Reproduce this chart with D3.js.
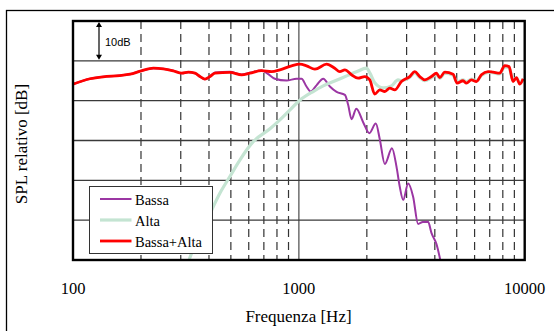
<!DOCTYPE html>
<html>
<head>
<meta charset="utf-8">
<script src="https://cdn.jsdelivr.net/npm/d3@7"></script>
<style>
  body { margin: 0; background: #fff; }
  svg { display: block; }
  text { font-family: "Liberation Serif", "Times New Roman", serif; fill: #000; }
</style>
</head>
<body>
<div id="chart"></div>
<script>
// frequency response data (Hz, dB relative)
const redFreq = [100, 119, 136, 161, 179, 201, 227, 251, 278, 303, 324, 347, 365, 384, 404, 425, 495, 558, 607, 684, 757, 824, 929, 1010, 1081, 1178, 1327, 1442, 1518, 1599, 1711, 1829, 1959, 2061, 2168, 2281, 2403, 2527, 2660, 2846, 3097, 3260, 3431, 3612, 3864, 4067, 4207, 4428, 4819, 5015, 5332, 5521, 5808, 6112, 6432, 6883, 7244, 7751, 8158, 8526, 8880, 9190, 9511, 9840];
const redDb = [-5.85, -4.5, -4.0, -3.7, -3.35, -2.5, -1.85, -2.0, -2.5, -3.1, -2.85, -3.1, -3.95, -4.6, -3.95, -3.1, -2.9, -3.5, -3.1, -2.45, -2.7, -2.25, -1.25, -0.85, -1.25, -2.1, -0.85, -1.85, -2.7, -2.25, -3.5, -4.35, -3.95, -4.8, -8.35, -7.3, -7.7, -6.85, -7.3, -5.2, -3.95, -2.7, -3.95, -4.8, -3.95, -3.1, -4.2, -2.85, -3.35, -5.6, -5.0, -5.6, -4.8, -5.2, -3.5, -2.7, -2.85, -3.1, -1.2, -1.45, -5.2, -4.2, -5.85, -4.5];

const bassaFreq = [100, 119, 136, 161, 179, 201, 227, 251, 278, 303, 324, 347, 365, 384, 404, 425, 495, 558, 607, 684, 729, 783, 883, 977, 1028, 1081, 1127, 1197, 1282, 1372, 1469, 1599, 1653, 1711, 1797, 1926, 2051, 2192, 2281, 2403, 2584, 2706, 2798, 2897, 3048, 3206, 3373, 3538, 3735, 3864, 4067, 4248];
const bassaDb = [-5.85, -4.5, -4.0, -3.7, -3.35, -2.5, -1.85, -2.0, -2.5, -3.1, -2.85, -3.1, -3.95, -4.6, -3.95, -2.9, -2.75, -3.4, -3.0, -2.45, -3.25, -4.5, -4.95, -4.5, -4.5, -6.45, -7.7, -6.15, -4.5, -6.45, -7.8, -8.55, -11.05, -14.65, -12.0, -15.4, -18.15, -15.75, -19.6, -25.9, -21.95, -26.55, -31.6, -34.9, -30.8, -34.1, -40.95, -40.45, -40.4, -43.2, -46.0, -50.5];

const altaFreq = [324, 347, 371, 418, 447, 495, 548, 628, 745, 824, 897, 1010, 1157, 1282, 1458, 1648, 1799, 1995, 2061, 2168, 2361, 2571, 2749, 2846, 3097, 3260, 3431, 3612, 3864, 4067, 4207, 4428, 4819, 5015, 5332, 5521, 5808, 6112, 6432, 6883, 7244, 7751, 8158, 8526, 8880, 9190, 9511, 9840];
const altaDb = [-50.5, -46.2, -43.3, -36.6, -33.25, -29.05, -24.9, -20.3, -17.05, -14.8, -12.75, -9.9, -7.7, -6.3, -4.95, -3.65, -2.75, -1.85, -3.0, -5.5, -6.8, -6.3, -4.8, -5.0, -4.2, -3.0, -4.2, -5.0, -4.2, -3.4, -4.4, -3.1, -3.6, -5.3, -4.8, -5.3, -4.6, -5.0, -3.7, -2.9, -3.0, -3.3, -1.5, -1.7, -5.0, -4.3, -5.6, -4.6];

const xTickValues = [100, 1000, 10000];
const xTickLabels = ["100", "1000", "10000"];
const minorFreqs = [200, 300, 400, 500, 600, 700, 800, 900, 2000, 3000, 4000, 5000, 6000, 7000, 8000, 9000];
const dbGrid = [-40, -30, -20, -10, 0];

const seriesNames = ["Bassa", "Alta", "Bassa+Alta"];
const seriesColors = ["#9b36a3", "#c4e4d2", "#ff0000"];

const width = 554, height = 331;
const plotL = 73, plotR = 524.7, plotT = 21, plotB = 260;

const svg = d3.select("#chart").append("svg")
  .attr("width", width)
  .attr("height", height);

const x = d3.scaleLog().domain([100, 10000]).range([plotL, plotR]);
const y = d3.scaleLinear().domain([-50, 10]).range([plotB, plotT]);

// outer frame
svg.append("rect")
  .attr("x", 6.5).attr("y", 10.5)
  .attr("width", 560).attr("height", 340)
  .attr("fill", "none").attr("stroke", "#000").attr("stroke-width", 1.3);

svg.append("defs").append("clipPath").attr("id", "plot-clip")
  .append("rect")
  .attr("x", plotL).attr("y", plotT)
  .attr("width", plotR - plotL).attr("height", plotB - plotT);

// grid
svg.append("g")
  .selectAll("line")
  .data(minorFreqs)
  .join("line")
  .attr("x1", d => x(d)).attr("x2", d => x(d))
  .attr("y1", plotT).attr("y2", plotB)
  .attr("stroke", "#333")
  .attr("stroke-width", 1.2)
  .attr("stroke-dasharray", "8,5");

svg.append("line")
  .attr("x1", x(1000)).attr("x2", x(1000))
  .attr("y1", plotT).attr("y2", plotB)
  .attr("stroke", "#777").attr("stroke-width", 1.6);

svg.append("g")
  .selectAll("line")
  .data(dbGrid)
  .join("line")
  .attr("x1", plotL).attr("x2", plotR)
  .attr("y1", d => y(d)).attr("y2", d => y(d))
  .attr("stroke", "#3a3a3a")
  .attr("stroke-width", 1.3);

// curves
const line = d3.line()
  .x(d => x(d[0]))
  .y(d => y(d[1]))
  .curve(d3.curveMonotoneX);

const curves = [
  { freq: bassaFreq, db: bassaDb, color: seriesColors[0], w: 2 },
  { freq: altaFreq, db: altaDb, color: seriesColors[1], w: 3.2 },
  { freq: redFreq, db: redDb, color: seriesColors[2], w: 2.8 }
];

const plot = svg.append("g").attr("clip-path", "url(#plot-clip)");
curves.forEach(c => {
  plot.append("path")
    .datum(d3.zip(c.freq, c.db))
    .attr("fill", "none")
    .attr("stroke", c.color)
    .attr("stroke-width", c.w)
    .attr("stroke-linejoin", "round")
    .attr("d", line);
});

// plot border
svg.append("rect")
  .attr("x", plotL).attr("y", plotT)
  .attr("width", plotR - plotL).attr("height", plotB - plotT)
  .attr("fill", "none").attr("stroke", "#000").attr("stroke-width", 2.4);

// 10dB marker
const ax = 99;
svg.append("line")
  .attr("x1", ax).attr("x2", ax)
  .attr("y1", y(10) + 4).attr("y2", y(0) - 4)
  .attr("stroke", "#000").attr("stroke-width", 1.2);
svg.append("path")
  .attr("d", `M${ax - 3},${y(10) + 6} L${ax},${y(10) + 1} L${ax + 3},${y(10) + 6} Z M${ax - 3},${y(0) - 6} L${ax},${y(0) - 1} L${ax + 3},${y(0) - 6} Z`)
  .attr("fill", "#000");
svg.append("text")
  .attr("x", 105).attr("y", 45.5)
  .style("font-family", "'Liberation Sans', Arial, sans-serif")
  .style("font-size", "11px")
  .text("10dB");

// axis labels
svg.append("g")
  .selectAll("text")
  .data(xTickValues)
  .join("text")
  .attr("x", d => x(d))
  .attr("y", 294)
  .attr("text-anchor", "middle")
  .style("font-size", "16.5px")
  .text((d, i) => xTickLabels[i]);

svg.append("text")
  .attr("x", 298.5).attr("y", 322)
  .attr("text-anchor", "middle")
  .style("font-size", "17px")
  .text("Frequenza [Hz]");

svg.append("text")
  .attr("transform", "translate(27,144) rotate(-90)")
  .attr("text-anchor", "middle")
  .style("font-size", "17px")
  .text("SPL relativo [dB]");

// legend
const legend = svg.append("g");
legend.append("rect")
  .attr("x", 89.5).attr("y", 186.5)
  .attr("width", 123).attr("height", 67)
  .attr("fill", "#fff").attr("stroke", "#333").attr("stroke-width", 1);

const legendRows = legend.selectAll("g")
  .data(seriesNames)
  .join("g")
  .attr("transform", (d, i) => `translate(0,${199 + i * 21})`);

legendRows.append("line")
  .attr("x1", 100).attr("x2", 131.5)
  .attr("stroke", (d, i) => seriesColors[i])
  .attr("stroke-width", (d, i) => curves[i].w);

legendRows.append("text")
  .attr("x", 135).attr("y", 6)
  .style("font-size", "14.5px")
  .text(d => d);
</script>
</body>
</html>
